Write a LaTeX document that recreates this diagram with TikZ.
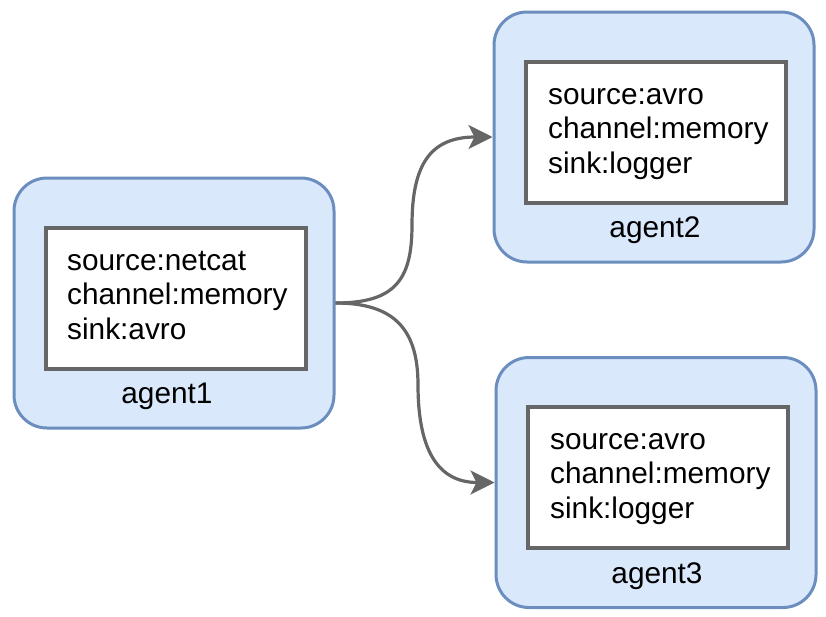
\documentclass[tikz,border=0pt]{standalone}
\usepackage{fontspec}
\setmainfont{Liberation Sans}
\usetikzlibrary{arrows.meta}
\definecolor{outfill}{HTML}{DAE8FC}
\definecolor{outdraw}{HTML}{6C8EBF}
\definecolor{ingray}{HTML}{666666}
\begin{document}
\begin{tikzpicture}[x=1pt,y=-1pt,
  agentbox/.style={draw=outdraw,fill=outfill,line width=3pt,rounded corners=33pt,
    minimum width=320pt,minimum height=250pt,inner sep=0pt},
  innerbox/.style={draw=ingray,fill=white,line width=4pt,
    minimum width=260pt,minimum height=141pt,inner sep=0pt},
  conf/.style={anchor=base west,align=left,inner sep=0pt,
    font=\fontsize{29.8}{34.5}\selectfont},
  lbl/.style={anchor=base,inner sep=0pt,font=\fontsize{29.8}{34.5}\selectfont},
  edge/.style={draw=ingray,line width=3.2pt,
    -{Stealth[length=24pt,width=24pt,inset=6pt]}}]
\useasboundingbox (0,0) rectangle (826,616);
% agent1
\node[agentbox] (a1) at (174,303) {};
\node[innerbox] (i1) at (176,298) {};
\node[conf] (t1) at (67,339) {source:netcat\\channel:memory\\sink:avro};
\node[lbl] (l1) at (167,403) {agent1};
% agent2
\node[agentbox] (a2) at (654,137) {};
\node[innerbox] (i2) at (656,132.5) {};
\node[conf] (t2) at (548,173) {source:avro\\channel:memory\\sink:logger};
\node[lbl] (l2) at (655,237) {agent2};
% agent3
\node[agentbox] (a3) at (656,482.5) {};
\node[innerbox] (i3) at (658,477.5) {};
\node[conf] (t3) at (550,518) {source:avro\\channel:memory\\sink:logger};
\node[lbl] (l3) at (657,583) {agent3};
% connectors
\draw[edge] (a1.east) .. controls (395,303) and (412,280) .. (412,225)
  .. controls (412,165) and (430,137) .. (a2.west);
\draw[edge] (a1.east) .. controls (395,303) and (418,330) .. (418,385)
  .. controls (418,445) and (435,482.5) .. (a3.west);
\end{tikzpicture}
\end{document}
